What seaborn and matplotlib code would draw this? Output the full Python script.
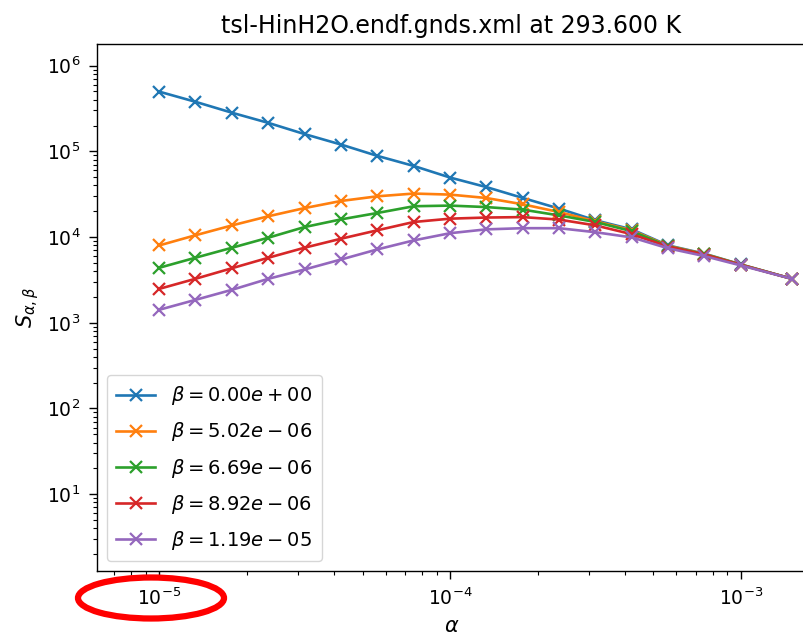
import matplotlib
matplotlib.use("Agg")
import matplotlib.pyplot as plt
from matplotlib.patches import Ellipse
import seaborn as sns
import pandas as pd

title = "tsl-HinH2O.endf.gnds.xml at 293.600 K"

alpha = [1.00e-5, 1.33e-5, 1.78e-5, 2.37e-5, 3.16e-5, 4.22e-5, 5.62e-5, 7.50e-5,
         1.00e-4, 1.33e-4, 1.78e-4, 2.37e-4, 3.16e-4, 4.22e-4, 5.62e-4, 7.50e-4,
         1.00e-3, 1.50e-3]

betas = [0.0, 5.02e-6, 6.69e-6, 8.92e-6, 1.19e-5]

s_beta0 = [4.97e5, 3.79e5, 2.82e5, 2.15e5, 1.59e5, 1.20e5, 8.86e4, 6.76e4,
           4.95e4, 3.84e4, 2.86e4, 2.15e4, 1.57e4, 1.23e4, 8.00e3, 6.40e3,
           4.80e3, 3.26e3]
s_beta1 = [8.00e3, 1.05e4, 1.37e4, 1.75e4, 2.18e4, 2.64e4, 2.99e4, 3.22e4,
           3.13e4, 2.86e4, 2.41e4, 1.96e4, 1.53e4, 1.20e4, 7.90e3, 6.35e3,
           4.78e3, 3.26e3]
s_beta2 = [4.39e3, 5.74e3, 7.52e3, 9.84e3, 1.31e4, 1.61e4, 1.91e4, 2.29e4,
           2.33e4, 2.24e4, 2.09e4, 1.79e4, 1.50e4, 1.17e4, 7.80e3, 6.30e3,
           4.76e3, 3.26e3]
s_beta3 = [2.49e3, 3.26e3, 4.34e3, 5.74e3, 7.52e3, 9.58e3, 1.20e4, 1.50e4,
           1.64e4, 1.69e4, 1.71e4, 1.60e4, 1.37e4, 1.08e4, 7.75e3, 6.25e3,
           4.74e3, 3.26e3]
s_beta4 = [1.42e3, 1.85e3, 2.43e3, 3.26e3, 4.19e3, 5.48e3, 7.18e3, 9.15e3,
           1.11e4, 1.23e4, 1.27e4, 1.27e4, 1.14e4, 9.91e3, 7.40e3, 6.00e3,
           4.67e3, 3.26e3]

series = [s_beta0, s_beta1, s_beta2, s_beta3, s_beta4]
colors = sns.color_palette("tab10", 5)

fig = plt.figure(figsize=(8.04, 6.36), dpi=100)
ax = fig.add_axes([97/804, 1 - 571/636, (806 - 97)/804, (571 - 44)/636])

for b, s, c in zip(betas, series, colors):
    df = pd.DataFrame({"alpha": alpha, "S": s})
    sns.lineplot(data=df, x="alpha", y="S", ax=ax, color=c, marker="x",
                 markersize=9, markeredgewidth=1.6, markeredgecolor=c,
                 linewidth=1.9, label=r"$\beta = %.2e$" % b)

ax.set_xscale("log")
ax.set_yscale("log")
ax.set_xlim(6.10e-6, 1.677e-3)
ax.set_ylim(1.27, 1.79e6)

ax.set_title(title, fontsize=17, pad=8)
ax.set_xlabel(r"$\alpha$", fontsize=15, labelpad=5)
ax.set_ylabel(r"$S_{\alpha,\beta}$", fontsize=15, labelpad=4)
ax.tick_params(which="major", labelsize=13.5, length=5.5, width=1.0, pad=6.5)
ax.tick_params(which="minor", length=3, width=0.8)
for sp in ax.spines.values():
    sp.set_linewidth(1.0)

ax.legend(loc="lower left", fontsize=14, handlelength=2.0, borderpad=0.5,
          labelspacing=0.67)

ell = Ellipse((151/804, 1 - 598/636), 146/804, 41/636, transform=fig.transFigure,
              fill=False, edgecolor="#ff0000", linewidth=4.5)
fig.add_artist(ell)

fig.savefig("out.png", dpi=100)
